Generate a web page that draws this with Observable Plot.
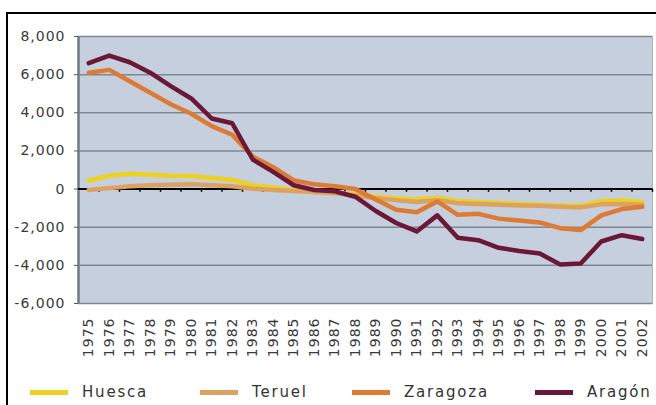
<!DOCTYPE html>
<html>
<head>
<meta charset="utf-8">
<script src="https://cdn.jsdelivr.net/npm/d3@7"></script>
<script src="https://cdn.jsdelivr.net/npm/@observablehq/plot@0.6"></script>
<style>
  html, body { margin: 0; padding: 0; background: #fff; }
  #wrap { position: relative; width: 656px; height: 405px; overflow: hidden; background: #fff; }
  #box { position: absolute; left: 6px; top: 12px; right: -4px; bottom: -4px; border-top: 2px solid #000; border-left: 2px solid #000; z-index: 5; pointer-events: none; }
  #chart { position: absolute; left: 0; top: 0; z-index: 1; }
  #chart svg text { letter-spacing: 1px; }
  .leg { position: absolute; top: 383px; font-family: "DejaVu Sans", sans-serif; font-size: 15px; color: #333; letter-spacing: 1.8px; display: flex; align-items: center; z-index: 2; }
  .sw { display: inline-block; width: 38px; height: 5px; margin-right: 14px; }
</style>
</head>
<body>
<div id="wrap">
  <div id="chart"></div>
  <div id="legend"></div>
  <div id="box"></div>
</div>
<script>
const years = [1975,1976,1977,1978,1979,1980,1981,1982,1983,1984,1985,1986,1987,1988,1989,1990,1991,1992,1993,1994,1995,1996,1997,1998,1999,2000,2001,2002];
const seriesNames = ["Huesca", "Teruel", "Zaragoza", "Aragón"];
const seriesColors = ["#ecd21e", "#dba262", "#dd7a34", "#6b1838"];
const huesca   = [450,700,800,750,700,680,580,480,200,80,-50,-150,-200,-280,-400,-480,-550,-450,-620,-680,-730,-780,-820,-860,-880,-620,-600,-680];
const teruel   = [-50,50,150,200,230,250,200,150,20,-50,-100,-150,-220,-330,-480,-580,-680,-580,-740,-780,-820,-860,-880,-930,-960,-800,-780,-820];
const zaragoza = [6100,6250,5650,5050,4450,3950,3300,2850,1700,1150,450,250,150,0,-550,-1080,-1220,-650,-1350,-1300,-1550,-1650,-1750,-2050,-2150,-1380,-1050,-930];
const aragon   = [6600,7000,6650,6100,5400,4750,3700,3450,1550,900,200,-50,-120,-400,-1150,-1780,-2220,-1380,-2550,-2680,-3080,-3250,-3380,-3950,-3900,-2750,-2420,-2620];
const yTicks = [-6000,-4000,-2000,0,2000,4000,6000,8000];

const seriesValues = [huesca, teruel, zaragoza, aragon];
const data = seriesNames.flatMap((name, i) => years.map((yr, j) => ({series: name, year: yr, value: seriesValues[i][j]})));
const bounds = years.map(y => y + 0.5);
const x0 = years[0] - 0.5, x1 = years[years.length - 1] + 0.5;

const chart = Plot.plot({
  width: 656,
  height: 370,
  marginTop: 36,
  marginBottom: 67,
  marginLeft: 78,
  marginRight: 4,
  style: {fontFamily: "DejaVu Sans, sans-serif", fontSize: "14px", color: "#3a3a3a", background: "transparent"},
  x: {type: "linear", domain: [x0, x1], axis: null, label: null},
  y: {domain: [yTicks[0], yTicks[yTicks.length - 1]], axis: null, label: null},
  color: {domain: seriesNames, range: seriesColors},
  marks: [
    Plot.frame({fill: "#c6cfdd", stroke: "#aab2bf"}),
    Plot.gridY(yTicks, {stroke: "#7f8793", strokeOpacity: 1, strokeWidth: 1.5}),
    Plot.ruleX([x0], {stroke: "#737985", strokeWidth: 2.5}),
    Plot.ruleY([0], {stroke: "#000", strokeWidth: 2}),
    Plot.ruleX(bounds, {y1: 0, y2: -170, stroke: "#000", strokeWidth: 1.5}),
    Plot.axisY(yTicks, {tickSize: 4, tickPadding: 9, stroke: "#555", fill: "#3a3a3a", label: null,
      tickFormat: d => d3.format(",")(d).replace("\u2212", "-")}),
    Plot.axisX(years, {tickSize: 0, tickPadding: 14, tickRotate: -90, fill: "#3a3a3a", label: null,
      tickFormat: d => String(d)}),
    Plot.line(data, {x: "year", y: "value", z: "series", stroke: "series", strokeWidth: 4.5, strokeLinejoin: "round", strokeLinecap: "round"})
  ]
});
document.getElementById("chart").appendChild(chart);

const legendPos = [30, 200, 352, 535];
const legend = document.getElementById("legend");
seriesNames.forEach((name, i) => {
  const el = document.createElement("div");
  el.className = "leg";
  el.style.left = legendPos[i] + "px";
  const sw = document.createElement("span");
  sw.className = "sw";
  sw.style.background = seriesColors[i];
  el.appendChild(sw);
  el.appendChild(document.createTextNode(name));
  legend.appendChild(el);
});
</script>
</body>
</html>
